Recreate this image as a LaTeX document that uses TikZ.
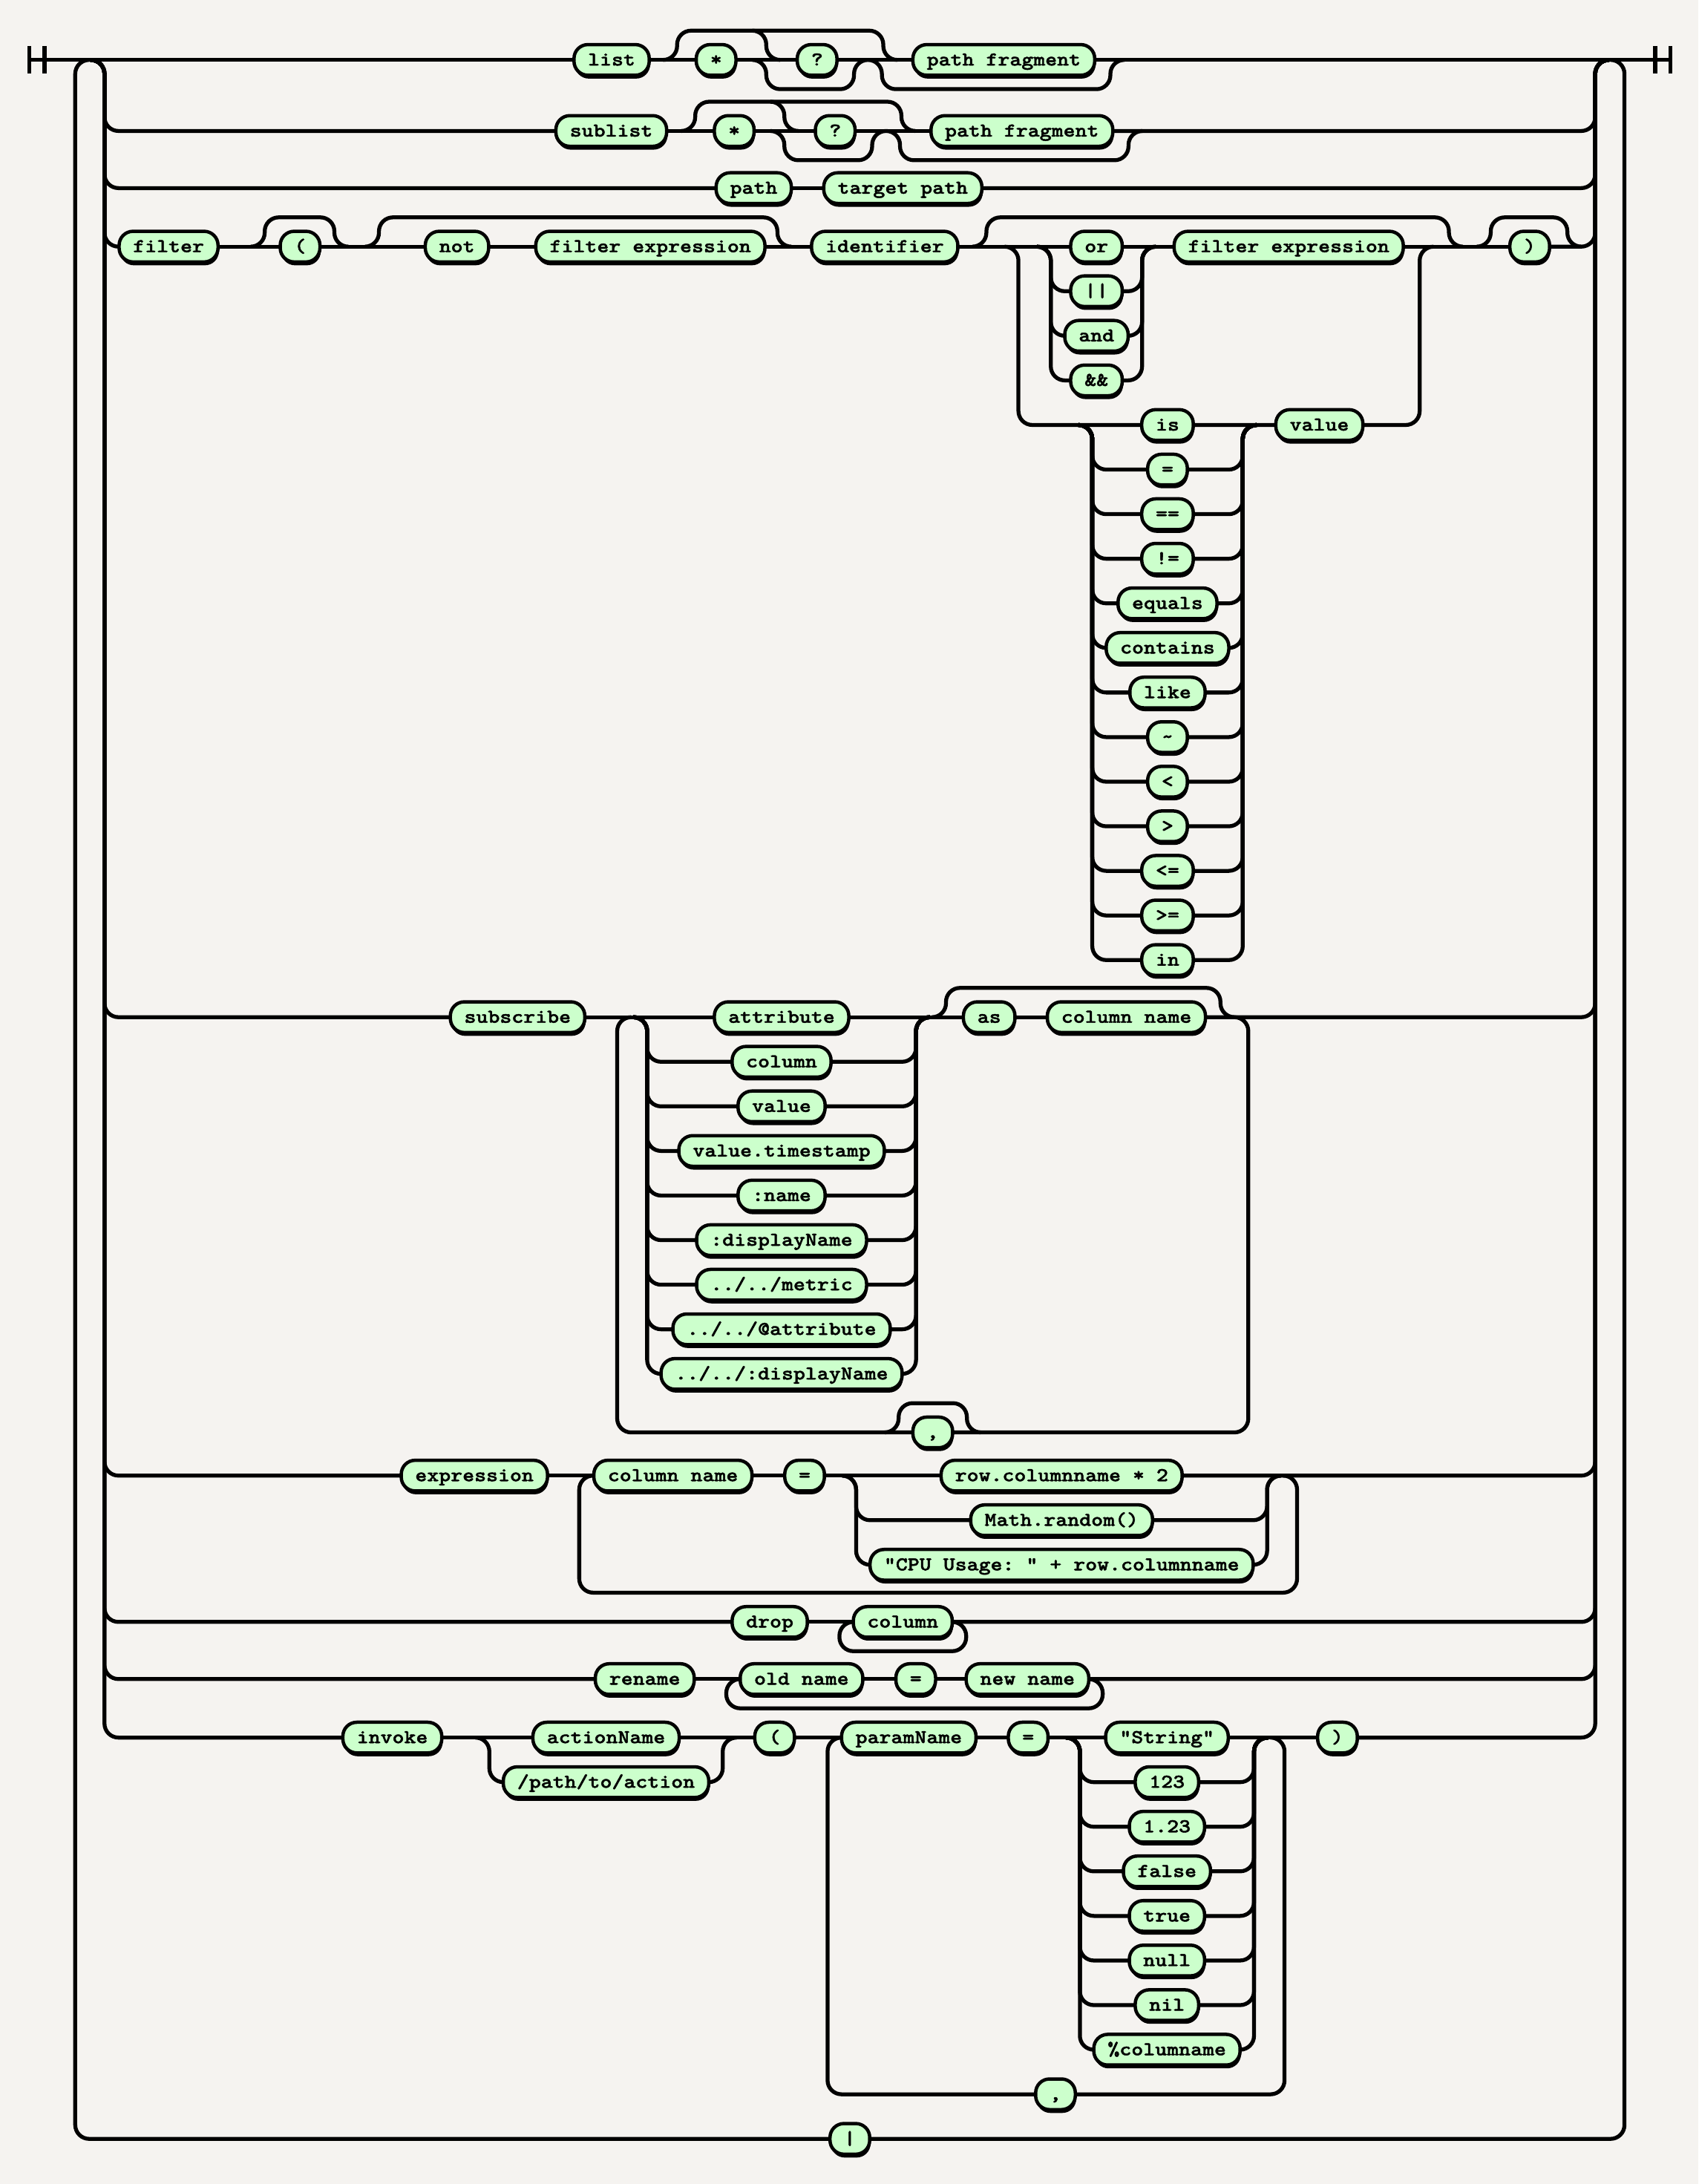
\documentclass[tikz,border=0pt]{standalone}
\usepackage{fontspec}
\usetikzlibrary{shadows}
\newfontfamily\rrfont{lmmonolt10-bold.otf}[FakeStretch=1.1565,FakeBold=1.6]
\definecolor{bgcol}{RGB}{245,243,240}
\definecolor{termfill}{RGB}{204,255,204}

\begin{document}
\begin{tikzpicture}[x=1pt,y=-1pt,
rail/.style={line width=2.8pt,rounded corners=10pt},
term/.style={draw,line width=2.4pt,fill=termfill,rounded corners=10pt,
  minimum height=22pt,inner xsep=10pt,inner ysep=0pt,outer sep=0pt,
  text height=8.5pt,text depth=0.5pt,
  font=\rrfont\fontsize{14}{14}\selectfont\frenchspacing,
  general shadow={fill=black,shadow xshift=0.6pt,shadow yshift=-2.4pt}}]

\fill[bgcol] (0,0) rectangle (1219,1567.4);

\coordinate (start) at (21,43);
\coordinate (stop) at (1199,43);
\coordinate (lb) at (75,43);
\coordinate (rb) at (1145,43);
\coordinate (boolL) at (754.25,177);
\coordinate (boolR) at (819.75,177);
\coordinate (opL) at (784,305);
\coordinate (opR) at (892,305);
\coordinate (srcL) at (464.5,730);
\coordinate (srcR) at (657.5,730);
\coordinate (exL) at (614.5,1059);
\coordinate (exR) at (909.5,1059);
\coordinate (actL) at (351.25,1247);
\coordinate (actR) at (518.75,1247);
\coordinate (valL) at (775.1,1247);
\coordinate (valR) at (900.1,1247);

\node[term] (list) at (439,43) {list};
\node[term] (star0) at (514,43) {*};
\node[term] (q0) at (586.5,43) {?};
\node[term] (pf0) at (720.5,43) {path fragment};
\node[term] (sublist) at (438.75,94) {sublist};
\node[term] (star1) at (527,94) {*};
\node[term] (q1) at (599.5,94) {?};
\node[term] (pf1) at (733.5,94) {path fragment};
\node[term] (path) at (541,135) {path};
\node[term] (tpath) at (648,135) {target path};

\node[term] (filter) at (121,177) {filter};
\node[term] (lpar) at (215.4,177) {(};
\node[term] (not) at (328,177) {not};
\node[term] (fexpr) at (466.8,177) {filter expression};
\node[term] (ident) at (635,177) {identifier};
\foreach \t [count=\i] in {or,||,and,\&\&}
  \node[term] (bool\i) at (787,145+32*\i) {\t};
\node[term] (fexpr2) at (925,177) {filter expression};
\node[term] (rpar) at (1098,177) {)};
\foreach \t [count=\i] in {is,=,==,!=,equals,contains,like,\textasciitilde,<,>,<=,>=,in}
  \node[term] (op\i) at (838,273+32*\i) {\t};
\node[term] (value) at (947,305) {value};

\node[term] (subscribe) at (371.5,730) {subscribe};
\foreach \t [count=\i] in {attribute,column,value,value.timestamp,:name,:displayName,../../metric,../../@attribute,../../:displayName}
  \node[term] (src\i) at (561,698+32*\i) {\t};
\node[term] (as) at (710,730) {as};
\node[term] (colname) at (808.5,730) {column name};
\node[term] (comma1) at (669.5,1028) {,};

\node[term] (expression) at (340.5,1059) {expression};
\node[term] (colname2) at (483,1059) {column name};
\node[term] (eq2) at (577.5,1059) {=};
\node[term] (rcol) at (762,1059) {row.columnname * 2};
\node[term] (mrand) at (762,1091) {Math.random()};
\node[term] (cpu) at (762,1123) {"CPU Usage: " + row.columnname};

\node[term] (drop) at (552.5,1164) {drop};
\node[term] (column3) at (648,1164) {column};

\node[term] (rename) at (462.8,1205) {rename};
\node[term] (oldname) at (575.3,1205) {old name};
\node[term] (eq3) at (657.3,1205) {=};
\node[term] (newname) at (737.5,1205) {new name};

\node[term] (invoke) at (281.6,1247) {invoke};
\node[term] (aname) at (435,1247) {actionName};
\node[term] (apath) at (435,1279) {/path/to/action};
\node[term] (lpar2) at (556,1247) {(};
\node[term] (pname) at (652.3,1247) {paramName};
\node[term] (eq4) at (738,1247) {=};
\foreach \t [count=\i] in {"String",123,1.23,false,true,null,nil,\%columname}
  \node[term] (val\i) at (837.6,1215+32*\i) {\t};
\node[term] (rpar2) at (960,1247) {)};
\node[term] (comma2) at (757.6,1503) {,};

\node[term] (bar) at (610,1535) {|};

\draw[rail] (21,33) -- (21,53) (32,33) -- (32,53) (1188,33) -- (1188,53) (1199,33) -- (1199,53);
\draw[rail] (start) -- (list.west) (pf0.east) -- (stop);
\draw[rail] (64,43) -- (54,43) -- (54,1535) -- (bar.west) (bar.east) -- (1166,1535) -- (1166,43) -- (1156,43);
\foreach \n in {sublist,path,filter,subscribe,expression,drop,rename,invoke}
  \draw[rail] (65,43) -- (lb) -- (lb |- \n) -- (\n.west);
\foreach \n in {pf1,tpath,rpar,colname,rcol,column3,newname,rpar2}
  \draw[rail] (\n.east) -- (rb |- \n) -- (rb) -- (1155,43);

\draw[rail] (list.east) -- (star0.west) (star0.east) -- (q0.west) (q0.east) -- (pf0.west);
\draw[rail] (sublist.east) -- (star1.west) (star1.east) -- (q1.west) (q1.east) -- (pf1.west);
\foreach \dx/\dy in {0/0,13/51}
{
\begin{scope}[shift={(\dx,\dy)}]
\draw[rail] (476,43) -- (486,43) -- (486,22) -- (634,22) -- (634,43) -- (644,43);
\draw[rail] (540,22) -- (550,22) -- (550,43) -- (560,43);
\draw[rail] (540,43) -- (550,43) -- (550,64) -- (613,64) -- (613,43) -- (623,43);
\draw[rail] (623,43) -- (633,43) -- (633,64) -- (797,64) -- (797,43) -- (807,43);
\end{scope}
}

\draw[rail] (path.east) -- (tpath.west);

\draw[rail] (filter.east) -- (lpar.west) (lpar.east) -- (not.west) (not.east) -- (fexpr.west)
  (fexpr.east) -- (ident.west) (ident.east) -- (bool1.west) (bool1.east) -- (fexpr2.west)
  (fexpr2.east) -- (rpar.west);
\draw[rail] (180,177) -- (190,177) -- (190,156) -- (240,156) -- (240,177) -- (250,177);
\draw[rail] (262,177) -- (272,177) -- (272,156) -- (558,156) -- (558,177) -- (568,177);
\draw[rail] (698,177) -- (708,177) -- (708,156) -- (1040,156) -- (1040,177) -- (1050,177);
\draw[rail] (1060,177) -- (1070,177) -- (1070,156) -- (1125,156) -- (1125,177) -- (1135,177);
\draw[rail] (721,177) -- (731,177) -- (731,305) -- (op1.west) (op1.east) -- (value.west)
  (value.east) -- (1019,305) -- (1019,177) -- (1029,177);
\foreach \i in {2,3,4}
  \draw[rail] (744.25,177) -- (boolL) -- (boolL |- bool\i) -- (bool\i.west)
    (bool\i.east) -- (boolR |- bool\i) -- (boolR) -- (829.75,177);
\foreach \i in {2,...,13}
  \draw[rail] (774,305) -- (opL) -- (opL |- op\i) -- (op\i.west)
    (op\i.east) -- (opR |- op\i) -- (opR) -- (902,305);

\draw[rail] (subscribe.east) -- (src1.west) (src1.east) -- (as.west) (as.east) -- (colname.west);
\foreach \i in {2,...,9}
  \draw[rail] (454.5,730) -- (srcL) -- (srcL |- src\i) -- (src\i.west)
    (src\i.east) -- (srcR |- src\i) -- (srcR) -- (667.5,730);
\draw[rail] (669,730) -- (679,730) -- (679,709) -- (876,709) -- (876,730) -- (886,730);
\draw[rail] (453,730) -- (443,730) -- (443,1028) -- (comma1.west)
  (comma1.east) -- (896,1028) -- (896,730) -- (886,730);
\draw[rail] (635,1028) -- (645,1028) -- (645,1007) -- (694,1007) -- (694,1028) -- (704,1028);

\draw[rail] (expression.east) -- (colname2.west) (colname2.east) -- (eq2.west) (eq2.east) -- (rcol.west);
\draw[rail] (colname2.west) -- (415.75,1059) -- (415.75,1143) -- (931,1143) -- (931,1059) -- (921,1059);
\foreach \n in {mrand,cpu}
  \draw[rail] (604.5,1059) -- (exL) -- (exL |- \n) -- (\n.west)
    (\n.east) -- (exR |- \n) -- (exR) -- (919.5,1059);

\draw[rail] (drop.east) -- (column3.west);
\draw[rail] (column3.west) -- (602.5,1164) -- (602.5,1185) -- (693.5,1185) -- (693.5,1164) -- (column3.east);

\draw[rail] (rename.east) -- (oldname.west) (oldname.east) -- (eq3.west) (eq3.east) -- (newname.west);
\draw[rail] (oldname.west) -- (521.3,1205) -- (521.3,1226) -- (791.5,1226) -- (791.5,1205) -- (newname.east);

\draw[rail] (invoke.east) -- (aname.west) (aname.east) -- (lpar2.west) (lpar2.east) -- (pname.west)
  (pname.east) -- (eq4.west) (eq4.east) -- (val1.west) (val1.east) -- (rpar2.west);
\draw[rail] (341.25,1247) -- (actL) -- (actL |- apath) -- (apath.west)
  (apath.east) -- (actR |- apath) -- (actR) -- (528.75,1247);
\draw[rail] (pname.west) -- (594,1247) -- (594,1503) -- (comma2.west)
  (comma2.east) -- (922,1503) -- (922,1247) -- (912,1247);
\foreach \i in {2,...,8}
  \draw[rail] (765.1,1247) -- (valL) -- (valL |- val\i) -- (val\i.west)
    (val\i.east) -- (valR |- val\i) -- (valR) -- (910.1,1247);

\end{tikzpicture}
\end{document}
